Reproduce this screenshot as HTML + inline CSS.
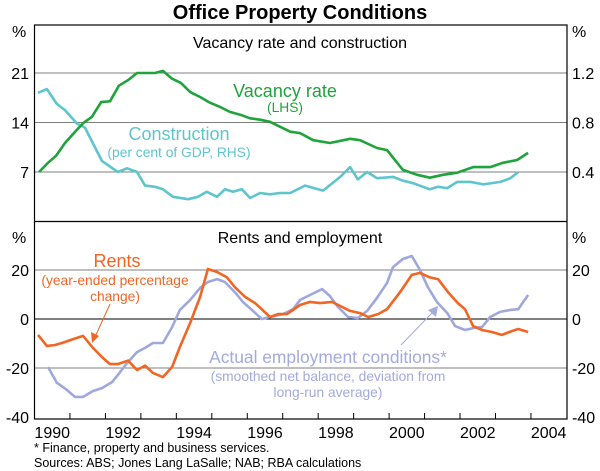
<!DOCTYPE html>
<html><head><meta charset="utf-8"><style>
html,body{margin:0;padding:0;background:#fff;}
svg{display:block;font-family:"Liberation Sans",Arial,sans-serif;}
</style></head><body>
<svg id="chart" width="600" height="471" viewBox="0 0 600 471" xmlns="http://www.w3.org/2000/svg">
<text x="300" y="19" text-anchor="middle" font-size="20" font-weight="bold">Office Property Conditions</text>
<g id="grid"></g>
<g id="series"></g>
<rect x="34.5" y="25" width="532.5" height="394" fill="none" stroke="#000" stroke-width="1.2"/>
<line x1="34.5" y1="221.5" x2="567" y2="221.5" stroke="#000" stroke-width="1.2"/>
<g id="axes"></g>
<text x="300" y="48" text-anchor="middle" font-size="16">Vacancy rate and construction</text>
<text x="300" y="243" text-anchor="middle" font-size="16">Rents and employment</text>
<text x="285" y="97" text-anchor="middle" font-size="18" fill="#1fa33b">Vacancy rate</text>
<text x="285" y="112" text-anchor="middle" font-size="13.8" fill="#1fa33b">(LHS)</text>
<text x="179" y="140" text-anchor="middle" font-size="18" fill="#5ec5cc">Construction</text>
<text x="179" y="157" text-anchor="middle" font-size="13.8" fill="#5ec5cc">(per cent of GDP, RHS)</text>
<text x="117" y="267" text-anchor="middle" font-size="18" fill="#f26522">Rents</text>
<text x="115" y="285" text-anchor="middle" font-size="13.8" fill="#f26522">(year-ended percentage</text>
<text x="115" y="301" text-anchor="middle" font-size="13.8" fill="#f26522">change)</text>
<line x1="110" y1="304" x2="95" y2="337" stroke="#f26522" stroke-width="1"/>
<polygon points="92,343 91,332 99,336" fill="#f26522"/>
<text x="328" y="363" text-anchor="middle" font-size="17.4" fill="#a3aadc">Actual employment conditions*</text>
<text x="328" y="381" text-anchor="middle" font-size="13.8" fill="#a3aadc">(smoothed net balance, deviation from</text>
<text x="328" y="397" text-anchor="middle" font-size="13.8" fill="#a3aadc">long-run average)</text>
<line x1="401" y1="345" x2="433" y2="312" stroke="#a3aadc" stroke-width="1"/>
<polygon points="438,306 436,317 428,310" fill="#a3aadc"/>
<text x="34" y="452" font-size="12.5">* Finance, property and business services.</text>
<text x="34" y="467" font-size="12.5">Sources: ABS; Jones Lang LaSalle; NAB; RBA calculations</text>
</svg>
<script>
const yearTicks=[1990,1992,1994,1996,1998,2000,2002,2004];
const topLeftTicks=[7,14,21];
const topRightTicks=["0.4","0.8","1.2"];
const bottomTicks=[-40,-20,0,20];
const vacDates=[1990.13,1990.38,1990.61,1990.86,1991.11,1991.37,1991.62,1991.88,1992.13,1992.38,1992.64,1992.89,1993.14,1993.40,1993.62,1993.88,1994.13,1994.39,1994.67,1994.95,1995.23,1995.51,1995.80,1996.08,1996.36,1996.64,1996.92,1997.21,1997.49,1997.86,1998.33,1998.90,1999.18,1999.66,1999.94,2000.39,2000.79,2001.15,2001.52,2001.92,2002.37,2002.85,2003.21,2003.61,2003.92];
const vacancy=[7.0,8.3,9.3,11.1,12.5,13.9,14.8,16.9,17.0,19.2,20.0,21.0,21.0,21.0,21.3,20.2,19.6,18.3,17.6,16.8,16.2,15.5,15.1,14.6,14.4,14.1,13.4,12.7,12.5,11.5,11.1,11.7,11.5,10.4,10.1,7.3,6.6,6.2,6.6,6.9,7.7,7.7,8.3,8.7,9.7];
const conDates=[1990.10,1990.35,1990.63,1990.86,1991.20,1991.42,1991.90,1992.35,1992.61,1992.89,1993.12,1993.40,1993.62,1993.91,1994.33,1994.61,1994.86,1995.15,1995.37,1995.60,1995.85,1996.08,1996.36,1996.64,1996.92,1997.21,1997.63,1998.14,1998.62,1998.90,1999.12,1999.38,1999.66,2000.11,2000.39,2000.67,2001.15,2001.38,2001.64,2001.92,2002.29,2002.66,2003.14,2003.42,2003.64];
const construction=[1.04,1.07,0.95,0.90,0.79,0.76,0.49,0.40,0.43,0.40,0.29,0.28,0.26,0.20,0.18,0.20,0.24,0.20,0.26,0.24,0.26,0.19,0.23,0.22,0.23,0.23,0.29,0.25,0.36,0.44,0.34,0.40,0.35,0.36,0.33,0.31,0.26,0.28,0.27,0.32,0.32,0.30,0.32,0.35,0.40];
const rentDates=[1990.1,1990.35,1990.58,1990.86,1991.09,1991.37,1991.65,1991.9,1992.13,1992.35,1992.64,1992.89,1993.12,1993.34,1993.62,1993.88,1994.1,1994.39,1994.67,1994.89,1995.15,1995.43,1995.65,1995.94,1996.22,1996.64,1996.87,1997.12,1997.49,1997.77,1998.05,1998.39,1998.62,1998.9,1999.18,1999.41,1999.69,1999.94,2000.31,2000.64,2000.87,2001.15,2001.38,2001.66,2001.94,2002.14,2002.37,2002.62,2002.9,2003.18,2003.47,2003.64,2003.92];
const rents=[-6.5,-11,-10.6,-9.4,-8.2,-6.9,-11.8,-15.5,-18.4,-18.4,-17,-20.8,-19,-22,-23.7,-19.6,-11.4,-1.6,9,20.4,19.2,17,13,9,6.5,0.8,2,2,5.7,7,6.5,7,5.3,3.3,2.4,0.8,2,4,11,18,18.8,17,16.3,11,6.5,4,-2.9,-4.5,-5.3,-6.5,-4.9,-4.1,-5.3];
const empDates=[1990.38,1990.63,1990.92,1991.14,1991.37,1991.65,1991.9,1992.19,1992.35,1992.61,1992.89,1993.12,1993.34,1993.62,1993.88,1994.1,1994.39,1994.67,1994.89,1995.15,1995.37,1995.65,1995.88,1996.13,1996.41,1996.64,1997.01,1997.29,1997.49,1997.77,1998.11,1998.33,1998.56,1998.84,1999.12,1999.38,1999.66,1999.94,2000.11,2000.39,2000.64,2000.87,2001.09,2001.35,2001.64,2001.86,2002.14,2002.37,2002.62,2002.85,2003.13,2003.42,2003.64,2003.92];
const employment=[-19.6,-26,-29,-31.8,-31.8,-29.4,-28.2,-25.7,-22.9,-18,-13.5,-11.8,-9.8,-9.8,-3.3,3.7,7.8,12.7,15.1,16.3,15.1,11,6.9,3.7,0,0.8,2,4,7.8,9.8,12.2,9.4,4.9,0.8,0.4,3.3,8.6,14.7,21.2,24.5,25.7,20,13,6.9,2.4,-2.9,-4.5,-3.7,-3.3,0.8,2.9,3.7,4,9.8];

const NS="http://www.w3.org/2000/svg";
const X0=34.5,PXY=35.46;
function xS(yr){return X0+(yr-1990)*PXY;}
function yTopL(v){return 221.5-v*(49.5/7);}
function yTopR(v){return 221.5-v*(49.5/0.4);}
function yBot(v){return 319-v*(49/20);}
function mk(tag,attrs,parent){const e=document.createElementNS(NS,tag);for(const k in attrs)e.setAttribute(k,attrs[k]);parent.appendChild(e);return e;}
const grid=document.getElementById('grid'),axes=document.getElementById('axes'),ser=document.getElementById('series');

topLeftTicks.forEach((t,i)=>{
  const y=yTopL(t);
  const l=mk('line',{x1:X0,x2:567,y1:y,y2:y,stroke:'#555','stroke-width':0.8},grid);
  
  
  const a=mk('text',{x:29,y:y+6,'text-anchor':'end','font-size':16},axes);a.textContent=t;
  
  
  const b=mk('text',{x:572,y:y+6,'font-size':16},axes);b.textContent=topRightTicks[i];
  
  
});
bottomTicks.forEach(t=>{
  const y=yBot(t);
  if(t>-40){
    const l=mk('line',{x1:X0,x2:567,y1:y,y2:y,stroke:t===0?'#000':'#555','stroke-width':t===0?1:0.8},grid);
    
    
  }
  const a=mk('text',{x:29,y:y+6,'text-anchor':'end','font-size':16},axes);a.textContent=t;
  
  
  const b=mk('text',{x:572,y:y+6,'font-size':16},axes);b.textContent=t;
  
  
});
[[12,31],[572,31],[12,237],[572,237]].forEach(p=>{
  const t=mk('text',{x:p[0],y:p[1]+6,'font-size':16},axes);t.textContent='%';
  
  
});
for(let yr=1991;yr<=2004;yr++){
  const x=xS(yr);
  const l=mk('line',{x1:x,x2:x,y1:419,y2:413,stroke:'#000','stroke-width':1},axes);
  
  
}
yearTicks.forEach(yr=>{
  const t=mk('text',{x:xS(yr+0.5),y:438,'text-anchor':'middle','font-size':16},axes);t.textContent=yr;
  
  
});
function line(dates,vals,yf,color,name){
  const d=dates.map((dt,i)=>(i?'L':'M')+xS(dt).toFixed(1)+','+yf(vals[i]).toFixed(1)).join(' ');
  const p=mk('path',{d:d,fill:'none',stroke:color,'stroke-width':2.6,'stroke-linejoin':'round'},ser);
  
  
}
line(conDates,construction,yTopR,'#5ec5cc','construction-line');
line(vacDates,vacancy,yTopL,'#1fa33b','vacancy-rate-line');
line(empDates,employment,yBot,'#9fa8dc','employment-line');
line(rentDates,rents,yBot,'#f26522','rents-line');
</script>
</body></html>
